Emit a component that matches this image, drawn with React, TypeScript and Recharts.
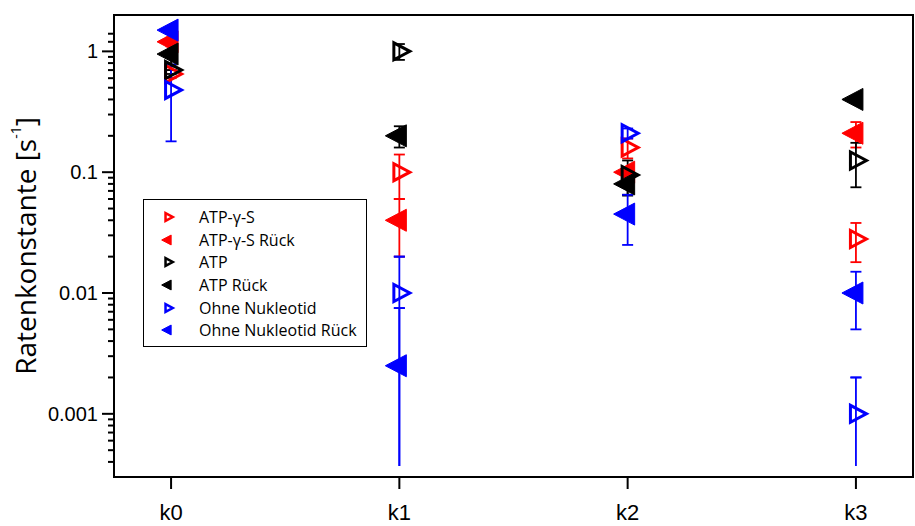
import * as React from 'react'
import {
  ErrorBar,
  Legend,
  ReferenceArea,
  Scatter,
  ScatterChart,
  XAxis,
  YAxis,
} from 'recharts'

const categories = ['k0', 'k1', 'k2', 'k3']

// Ratenkonstanten [1/s] with symmetric errors
const atpGammaS = [0.65, 0.1, 0.16, 0.028]
const atpGammaSErr = [0.05, 0.04, 0.03, 0.01]
const atpGammaSBack = [1.2, 0.04, 0.1, 0.21]
const atpGammaSBackErr = [0.1, 0.02, 0.01, 0.05]
const atp = [0.7, 1.0, 0.095, 0.125]
const atpErr = [0.05, 0.15, 0.03, 0.05]
const atpBack = [0.95, 0.2, 0.08, 0.4]
const atpBackErr = [0.25, 0.04, 0.016, 0.02]
const noNucleotide = [0.48, 0.01, 0.21, 0.001]
const noNucleotideErr = [0.3, 0.01, 0.02, 0.001]
const noNucleotideBack = [1.5, 0.0025, 0.045, 0.01]
const noNucleotideBackErr = [0.1, 0.005, 0.02, 0.005]

const majorTicks = [1, 0.1, 0.01, 0.001]
const minorTicks = [
  1.4, 1.2,
  0.9, 0.8, 0.7, 0.6, 0.5, 0.4, 0.3, 0.2,
  0.09, 0.08, 0.07, 0.06, 0.05, 0.04, 0.03, 0.02,
  0.009, 0.008, 0.007, 0.006, 0.005, 0.004, 0.003, 0.002,
  0.0009, 0.0008, 0.0007, 0.0006, 0.0005, 0.0004,
]
const yDomain = [0.0003, 2]
// error bars that would reach <= 0 are drawn down to here, without a cap
const tailFloor = 0.00037

const series = [
  { name: 'ATP-γ-S', color: '#ff0000', filled: false, values: atpGammaS, errs: atpGammaSErr },
  { name: 'ATP-γ-S Rück', color: '#ff0000', filled: true, values: atpGammaSBack, errs: atpGammaSBackErr },
  { name: 'ATP', color: '#000000', filled: false, values: atp, errs: atpErr },
  { name: 'ATP Rück', color: '#000000', filled: true, values: atpBack, errs: atpBackErr },
  { name: 'Ohne Nukleotid', color: '#0000ff', filled: false, values: noNucleotide, errs: noNucleotideErr },
  { name: 'Ohne Nukleotid Rück', color: '#0000ff', filled: true, values: noNucleotideBack, errs: noNucleotideBackErr },
]

const buildPoints = (values: number[], errs: number[]) =>
  values.map((v, i) => {
    const e = errs[i]
    const open = e >= v
    return {
      x: i,
      y: v,
      // capped part; for open-ended bars both caps sit on the upper end
      err: open ? [-e, e] : [e, e],
      tail: open ? [v - tailFloor, e] : [0, 0],
    }
  })

const trianglePoints = (cx: number, cy: number, filled: boolean, s = 1) =>
  filled
    ? `${cx + 7 * s},${cy - 11 * s} ${cx + 7 * s},${cy + 11 * s} ${cx - 14 * s},${cy}`
    : `${cx - 5.5 * s},${cy - 8.5 * s} ${cx - 5.5 * s},${cy + 8.5 * s} ${cx + 10.5 * s},${cy}`

const makeShape = (color: string, filled: boolean) => (props: any) => {
  const { cx, cy } = props
  if (cx == null || cy == null) return <g />
  return (
    <polygon
      points={trianglePoints(cx, cy, filled)}
      fill={filled ? color : 'none'}
      stroke={color}
      strokeWidth={filled ? 1 : 3}
      strokeLinejoin="miter"
    />
  )
}

const YTick = (props: any) => {
  const { x, y, payload } = props
  const major = majorTicks.includes(payload.value)
  return (
    <g>
      <line x1={x - (major ? 12 : 6)} x2={x} y1={y} y2={y} stroke="#000" strokeWidth={2} />
      {major && (
        <text
          x={x - 16}
          y={y}
          textAnchor="end"
          dominantBaseline="central"
          fontFamily="'Liberation Sans', Arial, sans-serif"
          fontSize={20}
          fill="#000"
        >
          {String(payload.value)}
        </text>
      )}
    </g>
  )
}

const YTitle = (props: any) => {
  const { viewBox } = props
  const cx = 25
  const cy = viewBox ? viewBox.y + viewBox.height / 2 : 246
  return (
    <text
      x={cx}
      y={cy}
      transform={`rotate(-90, ${cx}, ${cy})`}
      textAnchor="middle"
      dominantBaseline="central"
      fontFamily="'Open Sans', sans-serif"
      fontSize={28}
      fill="#000"
    >
      Ratenkonstante [s
      <tspan dy={-10} fontSize={14}>-1</tspan>
      <tspan dy={10}>]</tspan>
    </text>
  )
}

const renderLegend = (props: any) => {
  const { payload = [] } = props
  const names = payload.map((entry: any) => entry.value)
  // keep the order in which the series are drawn
  const items = series.filter((s) => names.includes(s.name))
  return (
    <div
      style={{
        boxSizing: 'border-box',
        width: 224,
        height: 148,
        border: '1.5px solid #000',
        background: '#fff',
        paddingTop: 6,
        fontFamily: "'Open Sans', sans-serif",
        fontSize: 16,
        color: '#000',
      }}
    >
      {items.map((s) => (
        <div key={s.name} style={{ display: 'flex', alignItems: 'center', height: 22.6 }}>
          <svg width={50} height={16} style={{ flex: 'none' }}>
            <polygon
              points={trianglePoints(24, 8, s.filled, 0.45)}
              fill={s.filled ? s.color : 'none'}
              stroke={s.color}
              strokeWidth={s.filled ? 1 : 2.5}
            />
          </svg>
          <span style={{ marginLeft: 5 }}>{s.name}</span>
        </div>
      ))}
    </div>
  )
}

export default function App() {
  const xTicks = categories.map((_, i) => i)
  return (
    <div style={{ position: 'absolute', left: 0, top: 0, width: 915, height: 526, background: '#fff' }}>
      <ScatterChart width={915} height={526} margin={{ top: 0, right: 2, bottom: 0, left: 0 }}>
        <XAxis
          dataKey="x"
          type="number"
          domain={[-0.25, 3.25]}
          ticks={xTicks}
          interval={0}
          allowDataOverflow
          tickFormatter={(i: number) => categories[i]}
          height={49}
          tickSize={12}
          tickMargin={15}
          axisLine={{ stroke: '#000', strokeWidth: 2 }}
          tickLine={{ stroke: '#000', strokeWidth: 2 }}
          tick={{ fill: '#000', fontSize: 22, fontFamily: "'Liberation Sans', Arial, sans-serif" }}
        />
        <XAxis
          xAxisId="top"
          orientation="top"
          type="number"
          domain={[-0.25, 3.25]}
          ticks={xTicks}
          interval={0}
          allowDataOverflow
          tickFormatter={() => ''}
          height={15}
          tickSize={10}
          axisLine={{ stroke: '#000', strokeWidth: 2 }}
          tickLine={{ stroke: '#000', strokeWidth: 2 }}
        />
        <YAxis
          dataKey="y"
          type="number"
          scale="log"
          domain={yDomain}
          allowDataOverflow
          ticks={[...majorTicks, ...minorTicks]}
          interval={0}
          width={114}
          tickSize={0}
          tickMargin={0}
          tickLine={false}
          tick={<YTick />}
          axisLine={{ stroke: '#000', strokeWidth: 2 }}
          label={<YTitle />}
        />
        <ReferenceArea
          x1={-0.25}
          x2={3.25}
          y1={yDomain[0]}
          y2={yDomain[1]}
          fill="none"
          stroke="#000"
          strokeWidth={2}
          ifOverflow="visible"
        />
        {series.map((s) => (
          <Scatter
            key={s.name}
            name={s.name}
            data={buildPoints(s.values, s.errs)}
            fill={s.color}
            shape={makeShape(s.color, s.filled)}
            isAnimationActive={false}
          >
            <ErrorBar dataKey="tail" direction="y" width={0} stroke={s.color} strokeWidth={1.8} />
            <ErrorBar dataKey="err" direction="y" width={5.5} stroke={s.color} strokeWidth={1.8} />
          </Scatter>
        ))}
        <Legend
          content={renderLegend}
          layout="vertical"
          align="center"
          verticalAlign="middle"
          wrapperStyle={{ left: 143, top: 199, width: 224, height: 148 }}
        />
      </ScatterChart>
    </div>
  )
}
